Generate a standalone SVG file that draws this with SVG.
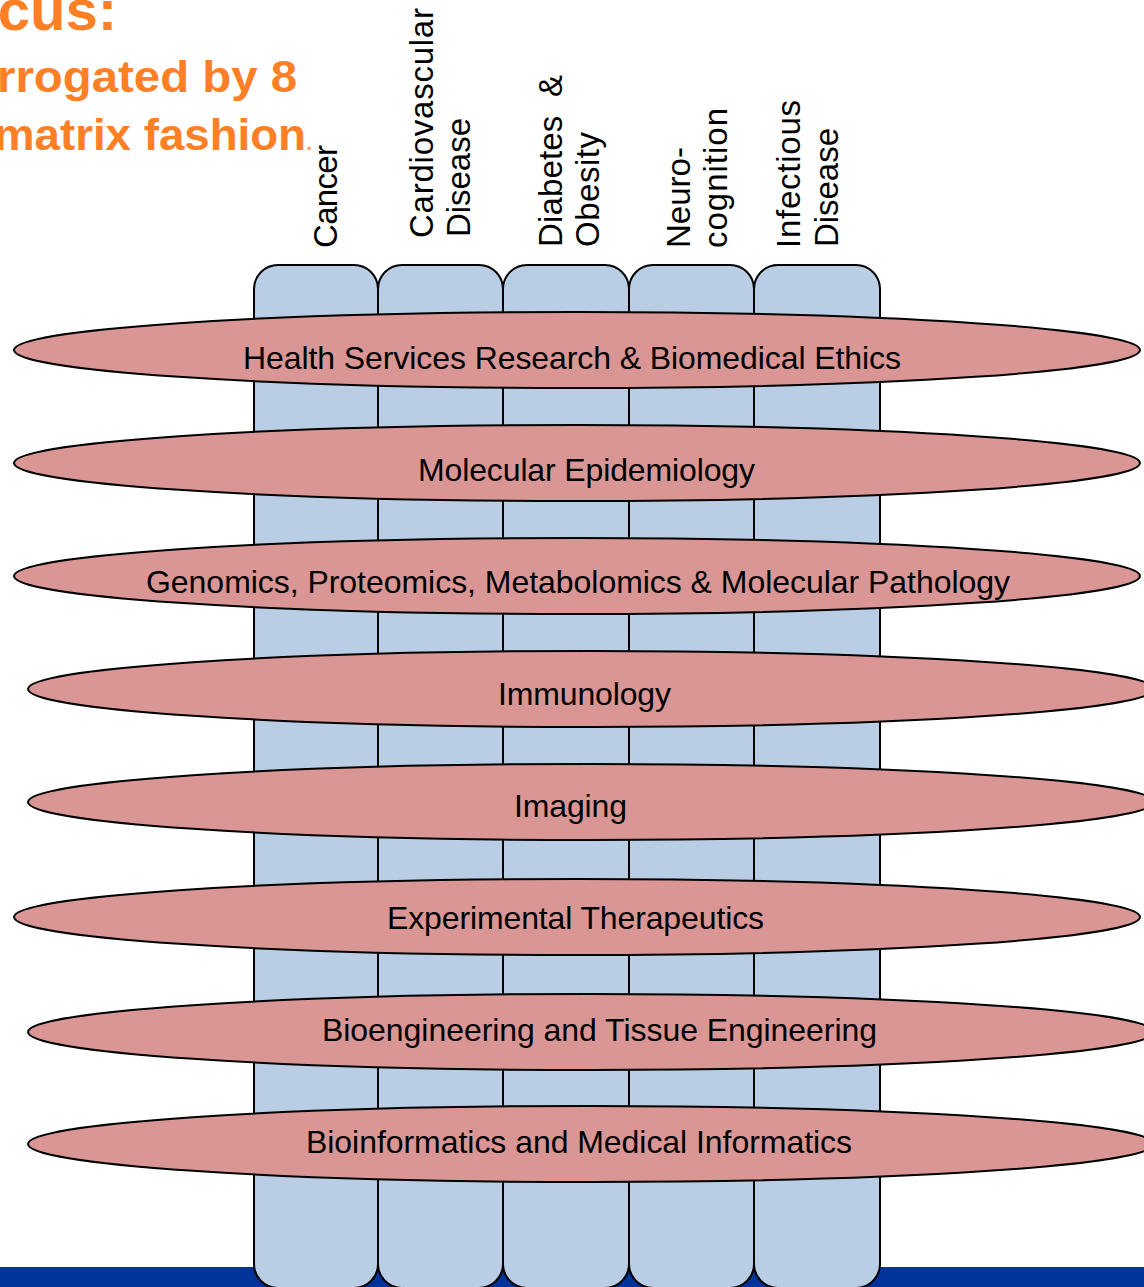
<svg xmlns="http://www.w3.org/2000/svg" width="1144" height="1287" viewBox="0 0 1144 1287">
  <style>
    .title { font-family: "Liberation Sans", Arial, sans-serif; font-weight: bold; fill: #FF7F27; }
    .col { fill: #B9CDE5; stroke: #000; stroke-width: 2; }
    .collabel { font-family: "Liberation Sans", Arial, sans-serif; font-size: 33px; fill: #000; }
    .band { fill: #D99694; stroke: #000; stroke-width: 2; }
    .bandlabel { font-family: "Liberation Sans", Arial, sans-serif; font-size: 32px; fill: #000; }
  </style>

  <rect width="1144" height="1287" fill="#fff"/>

  <!-- footer bar -->
  <rect x="0" y="1267" width="1144" height="20" fill="#00349A"/>

  <!-- heading fragment -->
  <g id="heading">
    <text class="title" x="117" y="30" font-size="58" text-anchor="end">cus:</text>
    <text class="title" x="297" y="92" font-size="44" text-anchor="end" textLength="300" lengthAdjust="spacingAndGlyphs">rrogated by 8</text>
    <text class="title" x="306" y="150" font-size="44" text-anchor="end" textLength="312" lengthAdjust="spacingAndGlyphs">matrix fashion</text>
    <text x="305" y="150" font-family="Liberation Sans, Arial, sans-serif" font-size="30" fill="#FF9A55">.</text>
  </g>

  <!-- disease columns -->
  <g id="col-cancer">
    <rect class="col" x="254" y="265" width="124" height="1023" rx="24" ry="24"/>
    <text class="collabel" transform="translate(337,248) rotate(-90)" textLength="103">Cancer</text>
  </g>
  <g id="col-cardiovascular">
    <rect class="col" x="378" y="265" width="125" height="1023" rx="24" ry="24"/>
    <text class="collabel" transform="translate(433,238) rotate(-90)" textLength="230">Cardiovascular</text>
    <text class="collabel" transform="translate(470,237) rotate(-90)" textLength="119">Disease</text>
  </g>
  <g id="col-diabetes">
    <rect class="col" x="503" y="265" width="126" height="1023" rx="24" ry="24"/>
    <text class="collabel" transform="translate(562,247) rotate(-90)" textLength="172" xml:space="preserve">Diabetes  &amp;</text>
    <text class="collabel" transform="translate(599,247) rotate(-90)" textLength="115">Obesity</text>
  </g>
  <g id="col-neurocognition">
    <rect class="col" x="629" y="265" width="125" height="1023" rx="24" ry="24"/>
    <text class="collabel" transform="translate(690,248) rotate(-90)" textLength="101">Neuro-</text>
    <text class="collabel" transform="translate(727,248) rotate(-90)" textLength="140">cognition</text>
  </g>
  <g id="col-infectious">
    <rect class="col" x="754" y="265" width="126" height="1023" rx="24" ry="24"/>
    <text class="collabel" transform="translate(800,248) rotate(-90)" textLength="148">Infectious</text>
    <text class="collabel" transform="translate(838,247) rotate(-90)" textLength="119">Disease</text>
  </g>

  <!-- cross-cutting research bands -->
  <g id="band-health-services">
    <ellipse class="band" cx="577" cy="350" rx="563" ry="38"/>
    <text class="bandlabel" x="243" y="369" textLength="658">Health Services Research &amp; Biomedical Ethics</text>
  </g>
  <g id="band-molecular-epidemiology">
    <ellipse class="band" cx="577" cy="463" rx="563" ry="38"/>
    <text class="bandlabel" x="418" y="481" textLength="337">Molecular Epidemiology</text>
  </g>
  <g id="band-genomics">
    <ellipse class="band" cx="577" cy="576" rx="563" ry="38"/>
    <text class="bandlabel" x="146" y="593" textLength="864">Genomics, Proteomics, Metabolomics &amp; Molecular Pathology</text>
  </g>
  <g id="band-immunology">
    <ellipse class="band" cx="591" cy="689" rx="563" ry="38"/>
    <text class="bandlabel" x="498" y="705" textLength="173">Immunology</text>
  </g>
  <g id="band-imaging">
    <ellipse class="band" cx="591" cy="802" rx="563" ry="38"/>
    <text class="bandlabel" x="514" y="817" textLength="113">Imaging</text>
  </g>
  <g id="band-experimental-therapeutics">
    <ellipse class="band" cx="577" cy="917" rx="563" ry="38"/>
    <text class="bandlabel" x="387" y="929" textLength="377">Experimental Therapeutics</text>
  </g>
  <g id="band-bioengineering">
    <ellipse class="band" cx="591" cy="1032" rx="563" ry="38"/>
    <text class="bandlabel" x="322" y="1041" textLength="555">Bioengineering and Tissue Engineering</text>
  </g>
  <g id="band-bioinformatics">
    <ellipse class="band" cx="591" cy="1144" rx="563" ry="38"/>
    <text class="bandlabel" x="306" y="1153" textLength="546">Bioinformatics and Medical Informatics</text>
  </g>

  <g id="connectors"/>
</svg>
